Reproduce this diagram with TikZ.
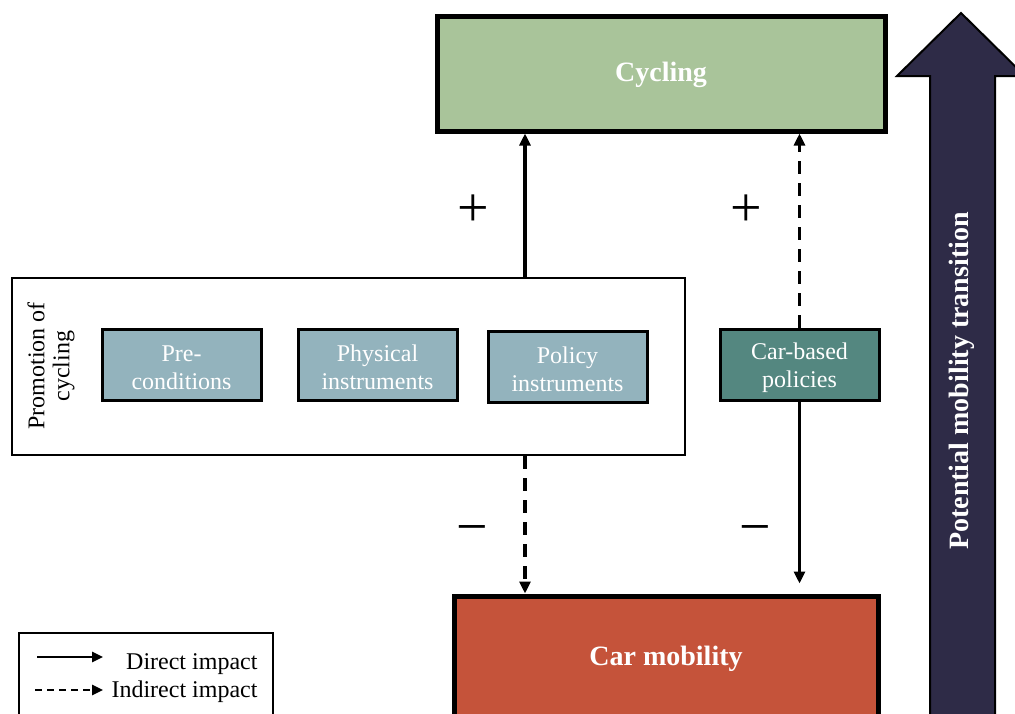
\documentclass[tikz,border=0pt]{standalone}
\usepackage{fontspec}
\setmainfont{Liberation Serif}
\usetikzlibrary{arrows.meta}
\definecolor{cycgreen}{HTML}{A9C49A}
\definecolor{carred}{HTML}{C5533A}
\definecolor{navy}{HTML}{2E2B47}
\definecolor{inst}{HTML}{93B3BD}
\definecolor{carpol}{HTML}{548780}
\tikzset{
  bigbox/.style={draw=black, line width=5pt, text=white, font=\fontsize{28}{32}\selectfont\bfseries},
  instbox/.style={draw=black, line width=3pt, fill=inst, text=white, minimum width=159pt, minimum height=71pt, align=center, font=\fontsize{24}{28}\selectfont},
  instlbl/.style={text=white, align=center, font=\fontsize{24}{28}\selectfont},
  direct/.style={line width=3.2pt, -{Triangle[length=12pt,width=11pt]}},
  indirect/.style={direct, dash pattern=on 13pt off 9pt},
  sign/.style={font=\fontsize{56}{56}\selectfont},
}
\begin{document}
\begin{tikzpicture}[x=1pt, y=-1pt]
\useasboundingbox (0,0) rectangle (1015,713);
\clip (0,0) rectangle (1015,713);
% main outcome boxes
\node[bigbox, fill=cycgreen, minimum width=448pt, minimum height=115pt] (cyc) at (661,73.5) {};
\node[text=white, font=\fontsize{28}{32}\selectfont\bfseries] (cyclbl) at (661,75) {Cycling};
\node[bigbox, fill=carred, minimum width=424pt, minimum height=160pt] (car) at (666,676) {};
\node[text=white, font=\fontsize{28}{32}\selectfont\bfseries] (carlbl) at (666,659) {Car mobility};
% transition arrow
\fill[navy, draw=black, line width=2pt] (930,730) -- (930,76) -- (897,76) -- (961,13) -- (1025,76) -- (995,76) -- (995,730) -- cycle;
\node[rotate=90, text=white, font=\fontsize{28}{32}\selectfont\bfseries] (trans) at (962,381) {Potential mobility transition};
% promotion of cycling group
\node[draw=black, line width=2.5pt, minimum width=673pt, minimum height=177pt] (promo) at (348.5,366.5) {};
\node[rotate=90, align=center, font=\fontsize{24}{25}\selectfont] (promolbl) at (51,366) {Promotion of\\cycling};
\node[instbox] (pre) at (181.5,364.5) {};
\node[instbox] (phys) at (377.5,364.5) {};
\node[instbox] (pol) at (567.5,366.5) {};
\node[instbox, fill=carpol] (carbased) at (799.5,364.5) {};
\node[instlbl] (prelbl) at ([yshift=-3pt]pre.center) {Pre-\\conditions};
\node[instlbl] (physlbl) at ([yshift=-3pt]phys.center) {Physical\\instruments};
\node[instlbl] (pollbl) at ([yshift=-3pt]pol.center) {Policy\\instruments};
\node[instlbl] (carbasedlbl) at ([yshift=-3pt]carbased.center) {Car-based\\policies};
% impacts
\coordinate (a1s) at (525,278);
\coordinate (a1e) at (525,133);
\draw[direct] (promo.north -| a1s) -- (cyc.south -| a1e);
\draw[indirect] (carbased.north) -- (cyc.south -| carbased.north);
\draw[indirect] (promo.south -| a1s) -- (car.north -| a1s);
\draw[direct, shorten >=10pt] (carbased.south) -- (car.north -| carbased.south);
\node[sign] (p1) at (473,211) {+};
\node[sign] (p2) at (746,211) {+};
\node[sign] (m1) at (472,535) {\char"2212};
\node[sign] (m2) at (755,535) {\char"2212};
% legend
\node[draw=black, line width=2pt, minimum width=254pt, minimum height=100pt] (leg) at (146,683) {};
\coordinate (l1a) at (37,657);
\coordinate (l1b) at (103,657);
\coordinate (l2a) at (35,690);
\coordinate (l2b) at (103,690);
\draw[line width=2.5pt, -{Triangle[length=11pt,width=10pt]}] (l1a) -- (l1b);
\draw[line width=2.5pt, dash pattern=on 7pt off 5pt, -{Triangle[length=11pt,width=10pt]}] (l2a) -- (l2b);
\node[anchor=east, font=\fontsize{24}{26}\selectfont] (dlbl) at (261,664) {Direct impact};
\node[anchor=east, font=\fontsize{24}{26}\selectfont] (ilbl) at (261,692) {Indirect impact};
\end{tikzpicture}
\end{document}
